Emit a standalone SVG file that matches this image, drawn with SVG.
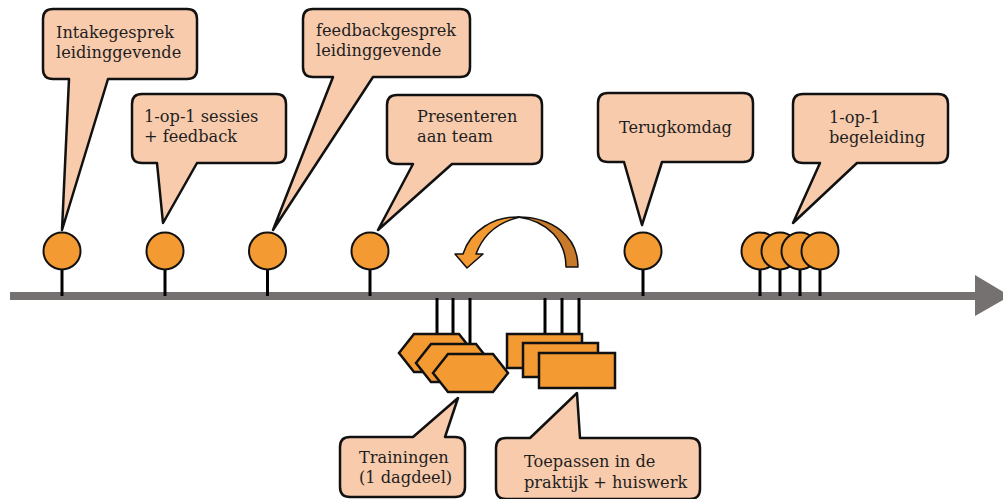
<svg xmlns="http://www.w3.org/2000/svg" width="1003" height="499" viewBox="0 0 1003 499">
<defs>
<style>
.box{fill:#f8cbad;stroke:#111;stroke-width:2.5;stroke-linejoin:round}
.dot{fill:#f39a32;stroke:#111;stroke-width:2}
.shp{fill:#f39a32;stroke:#111;stroke-width:2.5}
.stem{stroke:#000;stroke-width:3}
.t{font-family:"DejaVu Serif","Liberation Serif",serif;font-size:16.2px;fill:#1e1e1e}
</style>
</defs>
<g id="timeline">
<rect x="10" y="292" width="968" height="8" fill="#767171"/>
<polygon points="975,275 1010,296 975,316" fill="#767171"/>
</g>
<g id="connectors">
<line class="stem" x1="62" y1="269" x2="62" y2="296"/>
<line class="stem" x1="165" y1="269" x2="165" y2="296"/>
<line class="stem" x1="267.5" y1="269" x2="267.5" y2="296"/>
<line class="stem" x1="370" y1="269" x2="370" y2="296"/>
<line class="stem" x1="643" y1="269" x2="643" y2="296"/>
<line class="stem" x1="760" y1="269" x2="760" y2="296"/>
<line class="stem" x1="780" y1="269" x2="780" y2="296"/>
<line class="stem" x1="800" y1="269" x2="800" y2="296"/>
<line class="stem" x1="820" y1="269" x2="820" y2="296"/>
<line class="stem" x1="437" y1="298" x2="437" y2="336"/>
<line class="stem" x1="453" y1="298" x2="453" y2="346"/>
<line class="stem" x1="470" y1="298" x2="470" y2="356"/>
<line class="stem" x1="545" y1="298" x2="545" y2="336"/>
<line class="stem" x1="562" y1="298" x2="562" y2="345"/>
<line class="stem" x1="579" y1="298" x2="579" y2="355"/>
</g>
<g id="dots">
<circle class="dot" cx="62" cy="251" r="18.5"/>
<circle class="dot" cx="165" cy="251" r="18.5"/>
<circle class="dot" cx="267.5" cy="251" r="18.5"/>
<circle class="dot" cx="370" cy="251" r="18.5"/>
<circle class="dot" cx="643" cy="251" r="18.5"/>
<circle class="dot" cx="760" cy="251" r="18.5"/>
<circle class="dot" cx="780" cy="251" r="18.5"/>
<circle class="dot" cx="800" cy="251" r="18.5"/>
<circle class="dot" cx="820" cy="251" r="18.5"/>
</g>
<g id="cycle-arrow" stroke="#111" stroke-width="1.5" stroke-linejoin="round">
<path d="M518,217 C552,217 578,236 578,267 L566,267 C566,241 548,221 518,217 Z" fill="#c8792a"/>
<path d="M520,217 C494,216 470,231 463,254 L455,254 L467,268 L483,254 L476,254 C483,235 498,222 520,217 Z" fill="#f39a32"/>
</g>
<g id="trainings">
<polygon class="shp" points="399,353 414,334 459,334 474,353 459,372 414,372"/>
<polygon class="shp" points="416,363 431,344 476,344 491,363 476,382 431,382"/>
<polygon class="shp" points="433,373 448,354 493,354 508,373 493,392 448,392"/>
</g>
<g id="practice">
<rect class="shp" x="507" y="334" width="75" height="34"/>
<rect class="shp" x="523" y="343" width="75" height="34"/>
<rect class="shp" x="539" y="353" width="76" height="35"/>
</g>
<g id="c1">
<path class="box" d="M53,9 H187 Q197,9 197,19 V69 Q197,79 187,79 H108 L62,230 L69,79 H53 Q43,79 43,69 V19 Q43,9 53,9 Z"/>
<text class="t" x="56" y="38">Intakegesprek</text>
<text class="t" x="56" y="58">leidinggevende</text>
</g>
<g id="c2">
<path class="box" d="M142,94 H276 Q286,94 286,104 V153 Q286,163 276,163 H197 L163,223 L157,163 H142 Q132,163 132,153 V104 Q132,94 142,94 Z"/>
<text class="t" x="144" y="122">1-op-1 sessies</text>
<text class="t" x="144" y="142">+ feedback</text>
</g>
<g id="c3">
<path class="box" d="M313,9 H460 Q470,9 470,19 V67 Q470,77 460,77 H373 L273,230 L333,77 H313 Q303,77 303,67 V19 Q303,9 313,9 Z"/>
<text class="t" x="316" y="36">feedbackgesprek</text>
<text class="t" x="316" y="56">leidinggevende</text>
</g>
<g id="c4">
<path class="box" d="M397,95 H532 Q542,95 542,105 V154 Q542,164 532,164 H452 L378,230 L413,164 H397 Q387,164 387,154 V105 Q387,95 397,95 Z"/>
<text class="t" x="417" y="122">Presenteren</text>
<text class="t" x="417" y="142">aan team</text>
</g>
<g id="c5">
<path class="box" d="M608,93 H743 Q753,93 753,103 V152 Q753,162 743,162 H662 L642,225 L624,162 H608 Q598,162 598,152 V103 Q598,93 608,93 Z"/>
<text class="t" x="619" y="133">Terugkomdag</text>
</g>
<g id="c6">
<path class="box" d="M803,94 H938 Q948,94 948,104 V153 Q948,163 938,163 H857 L793,223 L820,163 H803 Q793,163 793,153 V104 Q793,94 803,94 Z"/>
<text class="t" x="829" y="123">1-op-1</text>
<text class="t" x="829" y="143">begeleiding</text>
</g>
<g id="c7">
<path class="box" d="M350,437 H413 L458,398 L445,437 H455 Q465,437 465,447 V487 Q465,497 455,497 H350 Q340,497 340,487 V447 Q340,437 350,437 Z"/>
<text class="t" x="359" y="463">Trainingen</text>
<text class="t" x="359" y="483">(1 dagdeel)</text>
</g>
<g id="c8">
<path class="box" d="M506,438 H530 L577,393 L580,438 H690 Q700,438 700,448 V489 Q700,499 690,499 H506 Q496,499 496,489 V448 Q496,438 506,438 Z"/>
<text class="t" x="524" y="467">Toepassen in de</text>
<text class="t" x="524" y="488">praktijk + huiswerk</text>
</g>
</svg>
